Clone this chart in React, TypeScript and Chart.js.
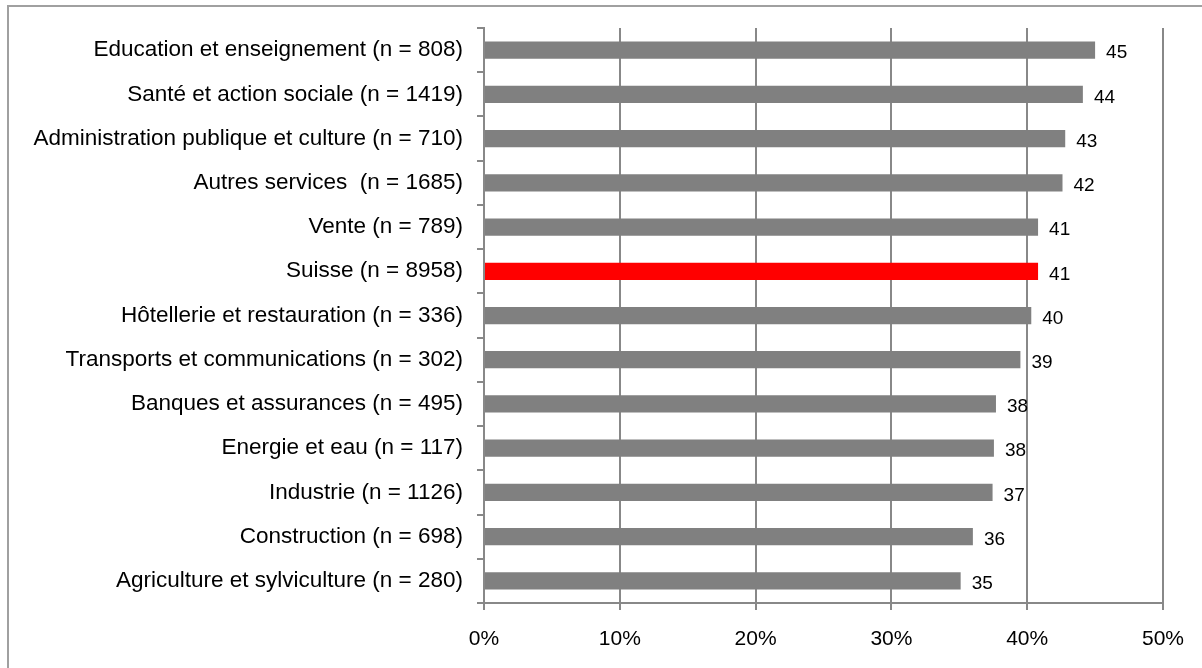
import React, { useEffect, useRef } from "react";
import { Chart, registerables } from "chart.js";

Chart.register(...registerables);

const categories = [
  "Education et enseignement (n = 808)",
  "Santé et action sociale (n = 1419)",
  "Administration publique et culture (n = 710)",
  "Autres services  (n = 1685)",
  "Vente (n = 789)",
  "Suisse (n = 8958)",
  "Hôtellerie et restauration (n = 336)",
  "Transports et communications (n = 302)",
  "Banques et assurances (n = 495)",
  "Energie et eau (n = 117)",
  "Industrie (n = 1126)",
  "Construction (n = 698)",
  "Agriculture et sylviculture (n = 280)",
];

const values = [45.0, 44.1, 42.8, 42.6, 40.8, 40.8, 40.3, 39.5, 37.7, 37.55, 37.45, 36.0, 35.1];
const valueLabels = ["45", "44", "43", "42", "41", "41", "40", "39", "38", "38", "37", "36", "35"];
const xTicks = [0, 10, 20, 30, 40, 50];
const highlight = "Suisse (n = 8958)";

const FONT = "'Liberation Sans', Arial, sans-serif";
const GRID = "#888888";

const labelPlugin = {
  id: "valueLabels",
  afterDatasetsDraw(chart: any) {
    const ctx = chart.ctx;
    const meta = chart.getDatasetMeta(0);
    ctx.save();
    ctx.font = `19px ${FONT}`;
    ctx.fillStyle = "#000";
    ctx.textBaseline = "middle";
    ctx.textAlign = "left";
    meta.data.forEach((bar: any, i: number) => {
      ctx.fillText(valueLabels[i], bar.x + 11, bar.y + 3);
    });
    ctx.restore();
  },
};

export default function App() {
  const ref = useRef<HTMLCanvasElement>(null);
  useEffect(() => {
    if (!ref.current) return;
    const chart = new Chart(ref.current, {
      type: "bar",
      data: {
        labels: categories,
        datasets: [
          {
            data: values,
            backgroundColor: categories.map((c) => (c === highlight ? "#ff0000" : "#808080")),
            barPercentage: 0.39,
            categoryPercentage: 1,
          },
        ],
      },
      options: {
        indexAxis: "y",
        responsive: false,
        animation: false,
        layout: { padding: { top: 28, right: 39, left: 0, bottom: 0 } },
        plugins: { legend: { display: false }, tooltip: { enabled: false } },
        scales: {
          x: {
            min: 0,
            max: 50,
            afterBuildTicks(scale: any) {
              scale.ticks = xTicks.map((v) => ({ value: v }));
            },
            afterFit(scale: any) {
              scale.height = 65;
            },
            ticks: {
              callback: (v: any) => `${v}%`,
              color: "#000",
              font: { family: FONT, size: 21 },
              padding: 17,
              maxRotation: 0,
            },
            grid: { color: GRID, lineWidth: 2, tickLength: 7 },
            border: { display: true, color: GRID, width: 2 },
          },
          y: {
            afterFit(scale: any) {
              scale.width = 484;
            },
            ticks: {
              color: "#000",
              font: { family: FONT, size: 22.5 },
              padding: 14,
            },
            grid: { drawOnChartArea: false, color: GRID, lineWidth: 2, tickLength: 7, offset: true },
            border: { display: true, color: GRID, width: 2 },
          },
        },
      },
      plugins: [labelPlugin],
    });
    return () => chart.destroy();
  }, []);
  return (
    <div style={{ position: "absolute", left: 0, top: 0, width: 1202, height: 668, overflow: "hidden", background: "#fff" }}>
      <div style={{ position: "absolute", left: 7, top: 5, width: 1220, height: 700, border: "2px solid #a0a0a0", boxSizing: "border-box" }} />
      <canvas ref={ref} width={1202} height={668} style={{ position: "absolute", left: 0, top: 0 }} />
    </div>
  );
}
